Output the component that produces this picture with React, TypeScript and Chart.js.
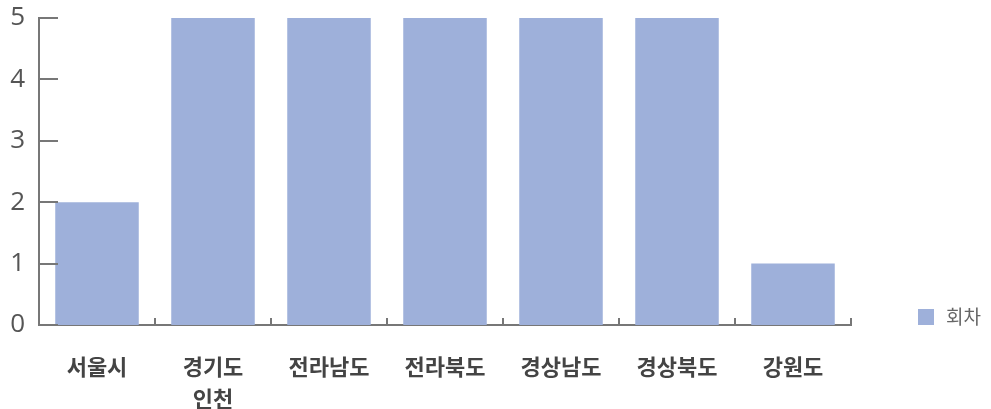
import React, { useEffect, useRef } from "react";
import { Chart, registerables } from "chart.js";

Chart.register(...registerables);

const categories: (string | string[])[] = [
  "서울시",
  ["경기도", "인천"],
  "전라남도",
  "전라북도",
  "경상남도",
  "경상북도",
  "강원도",
];
const seriesName = "회차";
const seriesValues = [2, 5, 5, 5, 5, 5, 1];
const yTicks = [0, 1, 2, 3, 4, 5];

const BAR_COLOR = "rgb(158,176,218)";
const AXIS_COLOR = "#777777";

const tickMarksPlugin = {
  id: "tickMarks",
  afterDraw(chart: any) {
    const ctx = chart.ctx;
    const x = chart.scales.x;
    const y = chart.scales.y;
    ctx.save();
    ctx.strokeStyle = AXIS_COLOR;
    ctx.lineWidth = 2;
    yTicks.forEach((v) => {
      const py = Math.round(y.getPixelForValue(v));
      ctx.beginPath();
      ctx.moveTo(chart.chartArea.left, py);
      ctx.lineTo(chart.chartArea.left + 19, py);
      ctx.stroke();
    });
    for (let i = 1; i <= categories.length; i++) {
      const px = Math.round(x.getPixelForValue(i - 0.5));
      ctx.beginPath();
      ctx.moveTo(px, chart.chartArea.bottom);
      ctx.lineTo(px, chart.chartArea.bottom - 7);
      ctx.stroke();
    }
    const ds = chart.data.datasets[0];
    ctx.fillStyle = ds.backgroundColor;
    ctx.fillRect(918, 309, 16, 16);
    ctx.fillStyle = "#666666";
    ctx.font = "19px 'Noto Sans CJK KR'";
    ctx.textBaseline = "middle";
    ctx.textAlign = "left";
    ctx.fillText(ds.label, 946, 317);
    ctx.restore();
  },
};

export default function App() {
  const ref = useRef<HTMLCanvasElement | null>(null);
  useEffect(() => {
    document.body.style.margin = "0";
    if (!ref.current) return;
    const chart = new Chart(ref.current, {
      type: "bar",
      data: {
        labels: categories,
        datasets: [
          {
            label: seriesName,
            data: seriesValues,
            backgroundColor: BAR_COLOR,
            categoryPercentage: 1,
            barPercentage: 0.72,
          },
        ],
      },
      options: {
        animation: false,
        responsive: true,
        maintainAspectRatio: false,
        layout: { padding: { top: 18, right: 140, bottom: 0, left: 0 } },
        plugins: { legend: { display: false }, tooltip: { enabled: false } },
        scales: {
          x: {
            grid: { display: false, drawTicks: false },
            border: { display: true, color: AXIS_COLOR, width: 2 },
            ticks: {
              color: "#444444",
              font: { family: "'Noto Sans CJK KR'", size: 22, weight: "bold", lineHeight: 1.45 },
              padding: 26,
              maxRotation: 0,
              autoSkip: false,
            },
            afterFit: (s: any) => {
              s.height = 84;
              s.paddingLeft = 0;
              s.paddingRight = 0;
            },
          },
          y: {
            min: 0,
            max: 5,
            grid: { display: false, drawTicks: false },
            border: { display: true, color: AXIS_COLOR, width: 2 },
            ticks: {
              stepSize: 1,
              color: "#555555",
              font: { family: "'Open Sans'", size: 26 },
              padding: 14,
            },
            afterFit: (s: any) => {
              s.width = 39;
              s.paddingTop = 0;
              s.paddingBottom = 0;
            },
          },
        },
      },
      plugins: [tickMarksPlugin],
    });
    return () => chart.destroy();
  }, []);
  return (
    <div style={{ position: "fixed", left: 0, top: 0, width: 991, height: 409 }}>
      <canvas ref={ref} />
    </div>
  );
}
